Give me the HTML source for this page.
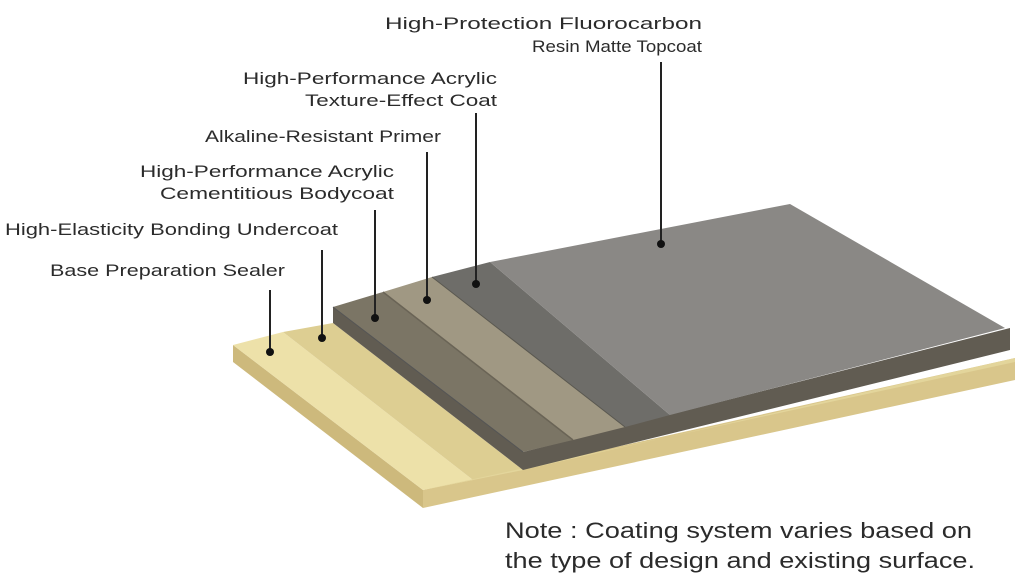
<!DOCTYPE html>
<html><head><meta charset="utf-8"><style>
html,body{margin:0;padding:0;background:#fff;}
svg{display:block;}
text{font-family:"Liberation Sans",sans-serif;fill:#2b2b2b;}
</style></head><body>
<svg width="1018" height="586" viewBox="0 0 1018 586" xmlns="http://www.w3.org/2000/svg">
<!-- base slab -->
<polygon points="233,345 233,362 423,508 423,490" fill="#cdb97c"/>
<polygon points="423,490 1015,358 1015,380 423,508" fill="#d9c68b"/>
<polygon points="233,345 283,332 473,480 423,490" fill="#ede1a9"/>
<polygon points="283,332 333,323 523,470 473,480" fill="#ddce92"/>
<polygon points="473,480 523,470 1015,358 1015,362 423,490" fill="#e3d59b"/>
<!-- thick side band -->
<polygon points="333,307 333,323 523,470 1010,350 1010,328 523,452" fill="#615c52"/>
<!-- top faces -->
<polygon points="333,307 383,292 573,440 523,452" fill="#7b7565"/>
<polygon points="383,292 432,277 625,427 573,440" fill="#a09883"/>
<polygon points="432,277 490,262 670,415 625,427" fill="#6e6d69"/>
<polygon points="490,262 790,204 1005,328 670,415" fill="#8a8885"/>
<line x1="333" y1="307" x2="523" y2="452" stroke="#555" stroke-width="1"/>
<line x1="383" y1="292" x2="573" y2="440" stroke="#6a6456" stroke-width="1.5"/>
<line x1="432" y1="277" x2="625" y2="427" stroke="#5a5850" stroke-width="1"/>
<!-- leaders -->
<g stroke="#222" stroke-width="2">
<line x1="270" y1="290" x2="270" y2="352"/>
<line x1="322" y1="250" x2="322" y2="338"/>
<line x1="375" y1="210" x2="375" y2="318"/>
<line x1="427" y1="152" x2="427" y2="300"/>
<line x1="476" y1="113" x2="476" y2="284"/>
<line x1="661" y1="62" x2="661" y2="244"/>
</g>
<g fill="#111">
<circle cx="270" cy="352" r="4"/><circle cx="322" cy="338" r="4"/><circle cx="375" cy="318" r="4"/>
<circle cx="427" cy="300" r="4"/><circle cx="476" cy="284" r="4"/><circle cx="661" cy="244" r="4"/>
</g>
<!-- labels -->
<g font-size="17">
<text x="385" y="29" textLength="317" lengthAdjust="spacingAndGlyphs">High-Protection Fluorocarbon</text>
<text x="532" y="52" textLength="170" lengthAdjust="spacingAndGlyphs">Resin Matte Topcoat</text>
<text x="243" y="84" textLength="254" lengthAdjust="spacingAndGlyphs">High-Performance Acrylic</text>
<text x="305" y="106" textLength="192" lengthAdjust="spacingAndGlyphs">Texture-Effect Coat</text>
<text x="205" y="142" textLength="236" lengthAdjust="spacingAndGlyphs">Alkaline-Resistant Primer</text>
<text x="140" y="177" textLength="254" lengthAdjust="spacingAndGlyphs">High-Performance Acrylic</text>
<text x="160" y="199" textLength="234" lengthAdjust="spacingAndGlyphs">Cementitious Bodycoat</text>
<text x="5" y="235" textLength="333" lengthAdjust="spacingAndGlyphs">High-Elasticity Bonding Undercoat</text>
<text x="50" y="276" textLength="235" lengthAdjust="spacingAndGlyphs">Base Preparation Sealer</text>
</g>
<g font-size="22">
<text x="505" y="538" textLength="467" lengthAdjust="spacingAndGlyphs">Note : Coating system varies based on</text>
<text x="505" y="568" textLength="470" lengthAdjust="spacingAndGlyphs">the type of design and existing surface.</text>
</g>
</svg>
</body></html>
